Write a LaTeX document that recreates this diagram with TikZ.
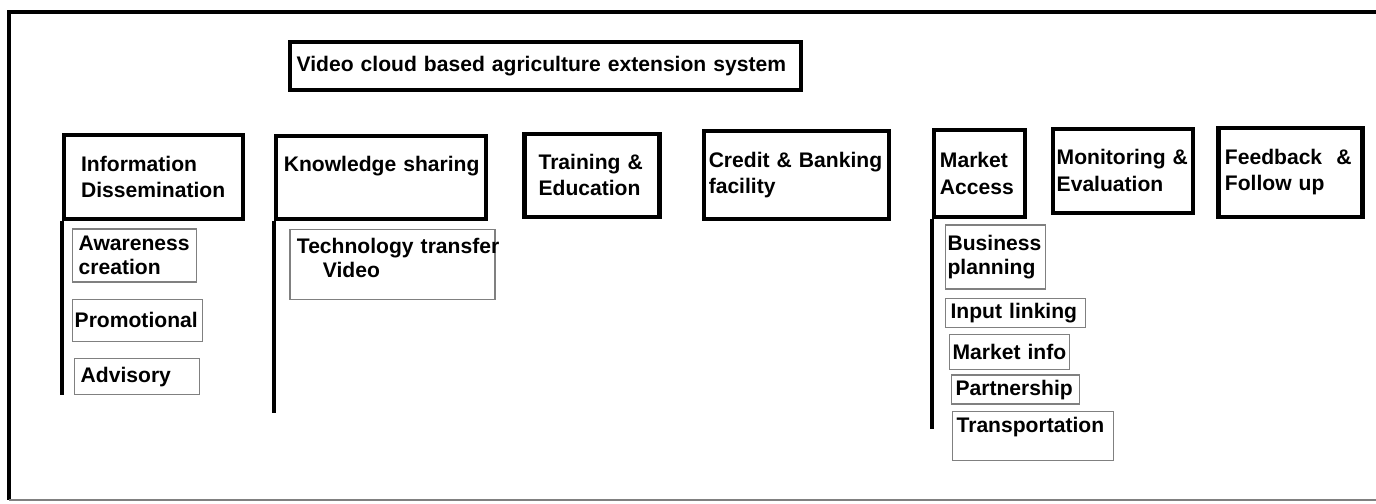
\documentclass[tikz,border=0pt]{standalone}
\usepackage{fontspec}
\setmainfont{Liberation Sans}
\usetikzlibrary{positioning}
\tikzstyle{block} = [rectangle, draw, line width=2.4pt, align=left, inner xsep=0.2cm, font=\bfseries\fontsize{12}{15}\selectfont]
\tikzstyle{sub} = [rectangle, draw=gray, line width=0.8pt, align=left, inner xsep=0.12cm, inner ysep=0.05cm, font=\bfseries\fontsize{12}{14}\selectfont]
\tikzstyle{stem} = [line width=2.2pt]

\begin{document}
\begin{tikzpicture}
   \useasboundingbox (0,0) rectangle (27.52,-10.06);
   % Frame
   \draw[line width=2.4pt] (27.52,-0.24) -- (0.18,-0.24) -- (0.18,-10.0);
   \draw[gray, line width=1pt] (0.18,-10.0) -- (27.52,-10.0);

   % Place nodes
   \node [block, anchor=north west, inner xsep=0.13cm, text width=9.96cm, minimum height=0.96cm] (title) at (5.76,-0.8) {Video cloud based agriculture extension system};
   \node [block, anchor=north west, inner xsep=0.34cm, text width=2.9cm, minimum height=1.68cm] (info) at (1.24,-2.66) {Information\\Dissemination};
   \node [block, right = 0.58cm of info, inner xsep=0.15cm, text width=3.9cm, minimum height=1.66cm] (know) {\mbox{Knowledge sharing}\\~};
   \node [block, right = 0.68cm of know, inner xsep=0.28cm, text width=2.14cm, minimum height=1.66cm, yshift=0.04cm] (train) {Training \&\\Education};
   \node [block, right = 0.8cm of train, inner xsep=0.1cm, text width=3.5cm, minimum height=1.76cm] (credit) {Credit \& Banking\\facility};
   \node [block, right = 0.82cm of credit, inner xsep=0.12cm, text width=1.58cm, minimum height=1.74cm, yshift=0.03cm] (market) {Market\\Access};
   \node [block, right = 0.48cm of market, inner xsep=0.07cm, text width=2.66cm, minimum height=1.68cm, yshift=0.06cm] (monitor) {Monitoring \&\\Evaluation};
   \node [block, right = 0.42cm of monitor, inner xsep=0.13cm, text width=2.62cm, minimum height=1.78cm, yshift=-0.03cm] (feedback) {Feedback \ \&\\Follow up};

   % Information Dissemination
   \node [sub, below right = 0.14cm and 0.2cm of info.south west, text width=2.24cm, minimum height=1.06cm] (aware) {Awareness\\creation};
   \node [sub, below right = 0.32cm and 0cm of aware.south west, inner xsep=0.04cm, text width=2.52cm, minimum height=0.84cm] (promo) {Promotional};
   \node [sub, below right = 0.32cm and 0.04cm of promo.south west, text width=2.26cm, minimum height=0.72cm] (advisory) {Advisory};
   \draw[stem] (info.south west) -- (info.south west |- advisory.south);

   % Knowledge sharing
   \node [sub, below right = 0.16cm and 0.3cm of know.south west, inner xsep=0.14cm, text width=3.82cm, minimum height=1.4cm] (tech) {\mbox{Technology transfer}\\\hspace*{0.52cm}Video\\[-1ex]~};
   \coordinate [below = 3.84cm of know.south west] (knowend);
   \draw[stem] (know.south west) -- (knowend);

   % Market Access
   \node [sub, below right = 0.1cm and 0.26cm of market.south west, inner xsep=0.04cm, text width=1.92cm, minimum height=1.28cm] (business) {Business\\planning};
   \node [sub, below right = 0.16cm and 0cm of business.south west, inner xsep=0.1cm, text width=2.6cm, minimum height=0.58cm] (input) {Input linking};
   \node [sub, below right = 0.12cm and 0.08cm of input.south west, inner xsep=0.06cm, text width=2.28cm, minimum height=0.7cm] (minfo) {Market info};
   \node [sub, below right = 0.08cm and 0.04cm of minfo.south west, inner xsep=0.08cm, text width=2.4cm, minimum height=0.58cm] (partner) {Partnership};
   \node [sub, below right = 0.12cm and 0.02cm of partner.south west, inner xsep=0.08cm, text width=3.06cm, minimum height=0.98cm, text depth=0.45cm] (transport) {Transportation};
   \coordinate [below = 4.2cm of market.south west] (marketend);
   \draw[stem] (market.south west) -- (marketend);
\end{tikzpicture}
\end{document}
